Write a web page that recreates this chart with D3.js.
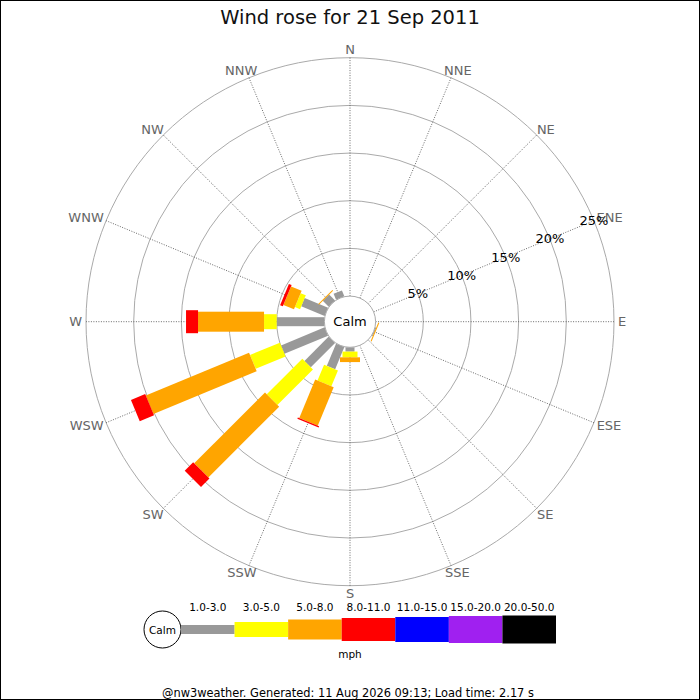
<!DOCTYPE html>
<html>
<head>
<meta charset="utf-8">
<script src="https://cdn.jsdelivr.net/npm/d3@7"></script>
<style>
  body { margin: 0; background: #fff; }
  svg text { font-family: "DejaVu Sans", sans-serif; }
</style>
</head>
<body>
<script>
// Wind rose data, percent of the day per direction and speed bin (calm excluded)
const directions = ["N", "NNE", "NE", "ENE", "E", "ESE", "SE", "SSE",
                    "S", "SSW", "SW", "WSW", "W", "WNW", "NW", "NNW"];
const speedBins = ["1.0-3.0", "3.0-5.0", "5.0-8.0", "8.0-11.0",
                   "11.0-15.0", "15.0-20.0", "20.0-50.0"];

//                 N  NNE NE ENE E  ESE  SE SSE  S     SSW   SW    WSW    W     WNW   NW    NNW
const bin1to3   = [0, 0,  0, 0,  0, 0.1, 0, 0,  0.45, 2.52, 3.6,  4.95,  5.0,  2.66, 0.88, 0.67];
const bin3to5   = [0, 0,  0, 0,  0, 0,   0, 0,  0.6,  1.8,  5.27, 3.39,  1.33, 0.58, 0,    0];
const bin5to8   = [0, 0,  0, 0,  0, 0.1, 0, 0,  0.5,  4.36, 10.5, 11.72, 6.92, 1.2,  0.1,  0];
const bin8to11  = [0, 0,  0, 0,  0, 0,   0, 0,  0,    0.15, 1.25, 1.62,  1.26, 0.31, 0,    0];
const bin11to15 = [0, 0,  0, 0,  0, 0,   0, 0,  0,    0,    0,    0,     0,    0,    0,    0];
const bin15to20 = [0, 0,  0, 0,  0, 0,   0, 0,  0,    0,    0,    0,     0,    0,    0,    0];
const bin20to50 = [0, 0,  0, 0,  0, 0,   0, 0,  0,    0,    0,    0,     0,    0,    0,    0];

const ringTicks = [5, 10, 15, 20, 25];

const binSeries = [bin1to3, bin3to5, bin5to8, bin8to11, bin11to15, bin15to20, bin20to50];
const binColors = ["#999999", "#ffff00", "#ffa500", "#ff0000", "#0000ff", "#a020f0", "#000000"];
const binWidths = [9, 15, 20, 23, 25, 27, 28];

// Layout
const width = 700,
    height = 700;
const cx = 350,
    cy = 321.7;
const calmRadius = 25.6,
    outerRadius = 264;

const svg = d3.select("body").append("svg")
    .attr("width", width)
    .attr("height", height);

svg.append("rect")
    .attr("width", width)
    .attr("height", height)
    .attr("fill", "#fff");

const r = d3.scaleLinear()
    .domain([0, d3.max(ringTicks)])
    .range([calmRadius, outerRadius]);

const angle = d3.scaleLinear()
    .domain([0, directions.length])
    .range([0, 360]);

const rad = deg => deg * Math.PI / 180;

// Title
svg.append("text")
    .attr("x", cx)
    .attr("y", 24)
    .attr("text-anchor", "middle")
    .attr("font-size", "19.5px")
    .attr("fill", "#111")
    .text("Wind rose for 21 Sep 2011");

const rose = svg.append("g")
    .attr("transform", `translate(${cx},${cy})`);

// rings
rose.selectAll("circle.ring")
    .data(ringTicks)
    .join("circle")
    .attr("class", "ring")
    .attr("r", d => r(d))
    .attr("fill", "none")
    .attr("stroke", "#aaa")
    .attr("stroke-width", 1);

// spokes
rose.selectAll("line.spoke")
    .data(directions)
    .join("line")
    .attr("class", "spoke")
    .attr("x1", (d, i) => calmRadius * Math.sin(rad(angle(i))))
    .attr("y1", (d, i) => -calmRadius * Math.cos(rad(angle(i))))
    .attr("x2", (d, i) => outerRadius * Math.sin(rad(angle(i))))
    .attr("y2", (d, i) => -outerRadius * Math.cos(rad(angle(i))))
    .attr("stroke", "#444")
    .attr("stroke-width", 0.8)
    .attr("stroke-dasharray", "1,1.5");

// direction labels, pushed outward by half their size
const labelR = 268;
rose.selectAll("text.dir")
    .data(directions)
    .join("text")
    .attr("class", "dir")
    .attr("font-size", "13px")
    .attr("fill", "#666")
    .attr("text-anchor", "middle")
    .attr("dominant-baseline", "central")
    .text(d => d)
    .each(function (d, i) {
        const a = rad(angle(i));
        const w = this.getComputedTextLength();
        d3.select(this)
            .attr("x", labelR * Math.sin(a) + Math.sin(a) * w / 2)
            .attr("y", -labelR * Math.cos(a) - Math.cos(a) * 4);
    });

// stacked bars
const rows = directions.map((d, i) => {
    const row = {dir: d};
    speedBins.forEach((b, k) => row[b] = binSeries[k][i]);
    return row;
});
const stacked = d3.stack().keys(speedBins)(rows);

stacked.forEach((series, k) => {
    rose.append("g")
        .attr("fill", binColors[k])
        .selectAll("rect")
        .data(series.filter(s => s[1] - s[0] > 0))
        .join("rect")
        .attr("transform", s => `rotate(${angle(directions.indexOf(s.data.dir))})`)
        .attr("x", -binWidths[k] / 2)
        .attr("width", binWidths[k])
        .attr("y", s => -r(s[1]))
        .attr("height", s => Math.max(r(s[1]) - r(s[0]), 1));
});

// calm circle
rose.append("circle")
    .attr("r", calmRadius)
    .attr("fill", "#fff")
    .attr("stroke", "#aaa");

rose.append("text")
    .attr("text-anchor", "middle")
    .attr("dominant-baseline", "central")
    .attr("font-size", "13px")
    .attr("fill", "#000")
    .text("Calm");

// percent labels along ENE
const tickAngle = rad(67.5);
rose.selectAll("text.pct")
    .data(ringTicks)
    .join("text")
    .attr("class", "pct")
    .attr("x", d => r(d) * Math.sin(tickAngle))
    .attr("y", d => -r(d) * Math.cos(tickAngle))
    .attr("text-anchor", "middle")
    .attr("dominant-baseline", "central")
    .attr("font-size", "13px")
    .attr("fill", "#000")
    .text(d => d + "%");

// Legend
const legendY = 629.5;
const legendX = d3.scaleBand()
    .domain(speedBins)
    .range([181, 556]);

const legend = svg.append("g");

legend.append("circle")
    .attr("cx", 162.5)
    .attr("cy", legendY)
    .attr("r", 18.5)
    .attr("fill", "#fff")
    .attr("stroke", "#000");

legend.append("text")
    .attr("x", 162.5)
    .attr("y", legendY)
    .attr("text-anchor", "middle")
    .attr("dominant-baseline", "central")
    .attr("font-size", "10.5px")
    .text("Calm");

legend.selectAll("rect")
    .data(speedBins)
    .join("rect")
    .attr("x", d => legendX(d))
    .attr("width", legendX.bandwidth())
    .attr("y", (d, k) => legendY - binWidths[k] / 2)
    .attr("height", (d, k) => binWidths[k])
    .attr("fill", (d, k) => binColors[k]);

legend.selectAll("text.bin")
    .data(speedBins)
    .join("text")
    .attr("class", "bin")
    .attr("x", d => legendX(d) + legendX.bandwidth() / 2)
    .attr("y", 611)
    .attr("text-anchor", "middle")
    .attr("font-size", "10.5px")
    .text(d => d);

legend.append("text")
    .attr("x", cx)
    .attr("y", 658)
    .attr("text-anchor", "middle")
    .attr("font-size", "10.5px")
    .text("mph");

// footer
svg.append("text")
    .attr("x", 348)
    .attr("y", 697)
    .attr("text-anchor", "middle")
    .attr("font-size", "11.4px")
    .attr("fill", "#000")
    .text("@nw3weather. Generated: 11 Aug 2026 09:13; Load time: 2.17 s");

// frame
svg.append("rect")
    .attr("x", 0.5)
    .attr("y", 0.5)
    .attr("width", width - 1)
    .attr("height", height - 1)
    .attr("fill", "none")
    .attr("stroke", "#000");
</script>
</body>
</html>
